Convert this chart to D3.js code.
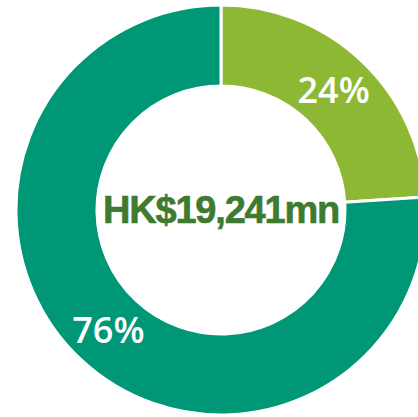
<!DOCTYPE html>
<html>
<head>
<meta charset="utf-8">
<script src="https://cdn.jsdelivr.net/npm/d3@7"></script>
<style>
	body{margin:0;background:#fff;}
	svg{display:block;}
</style>
</head>
<body>
<div id="chart"></div>
<script>
// data
const categories = ['A','B'];
const shares = [24, 76];
const labels = ['24%','76%'];
const totalLabel = 'HK$19,241mn';
const colors = ['#8cb833','#009776'];

const width = 418, height = 417;
const cx = 221, cy = 210;
const outerR = 205, innerR = 124;

const svg = d3.select('#chart').append('svg')
	.attr('width',width)
	.attr('height',height);

const g = svg.append('g')
	.attr('transform',`translate(${cx},${cy})`);

const pie = d3.pie().sort(null).value(d => d);
const arcs = pie(shares);

const arc = d3.arc().innerRadius(innerR).outerRadius(outerR);

//slices
g.selectAll('.slice')
	.data(arcs)
	.enter()
	.append('path')
	.attr('class','slice')
	.attr('d',arc)
	.style('fill',(d,i) => colors[i])
	.style('stroke','#fff')
	.style('stroke-width',3);

//percent labels
g.selectAll('.pct')
	.data(arcs)
	.enter()
	.append('text')
	.attr('class','pct')
	.attr('x',d => arc.centroid(d)[0])
	.attr('y',d => arc.centroid(d)[1] + 13)
	.attr('text-anchor','middle')
	.style('font-family','"Open Sans", sans-serif')
	.style('font-weight',600)
	.style('font-size','36px')
	.style('fill','#fff')
	.text((d,i) => labels[i]);

//total in the middle
g.append('text')
	.attr('x',0)
	.attr('y',13)
	.attr('text-anchor','middle')
	.style('font-family','"Liberation Sans", Arial, sans-serif')
	.style('font-weight','bold')
	.style('font-size','38px')
	.style('letter-spacing','-1.2px')
	.style('stroke','#3e7a2f')
	.style('stroke-width',0.6)
	.style('fill','#3e7a2f')
	.text(totalLabel);
</script>
</body>
</html>
